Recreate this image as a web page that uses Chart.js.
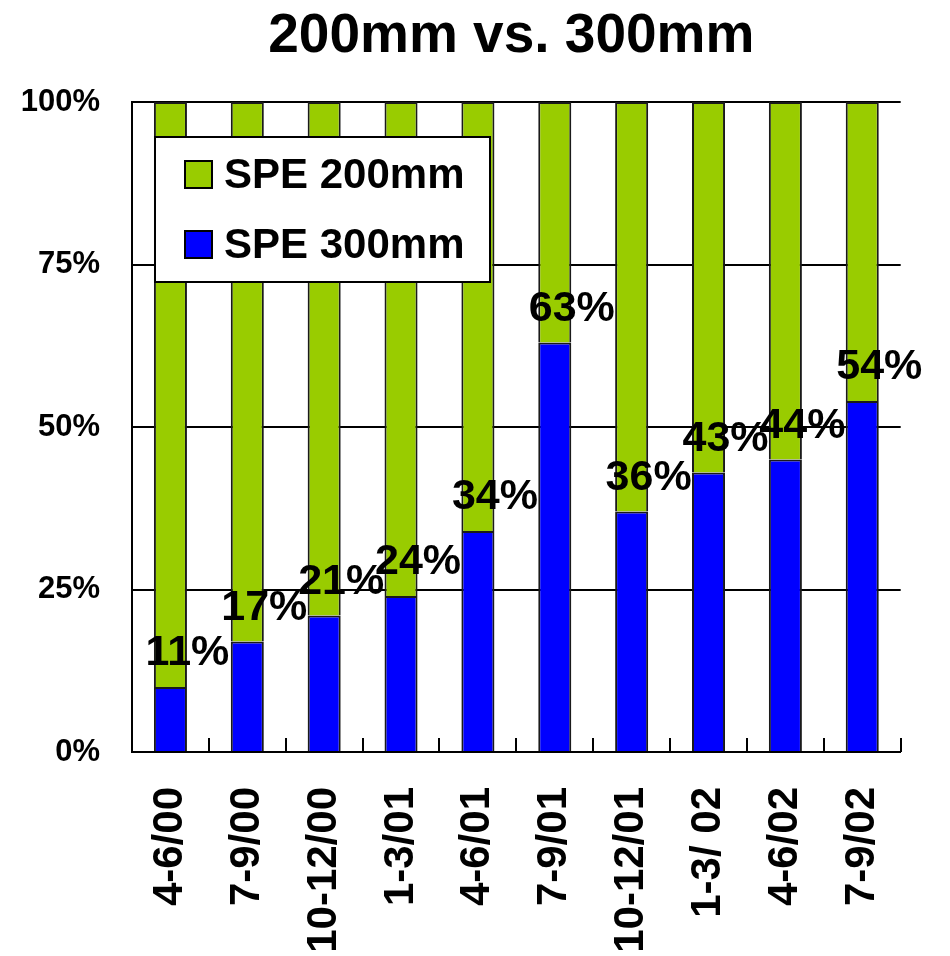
<!DOCTYPE html>
<html>
<head>
<meta charset="utf-8">
<title>200mm vs. 300mm</title>
<script src="https://cdn.jsdelivr.net/npm/chart.js@4.4.1/dist/chart.umd.min.js"></script>
<style>
  body { margin: 0; background: #fff; }
</style>
</head>
<body>
<canvas id="Chart" width="950" height="956"></canvas>
<script>
const chartTitle = "200mm vs. 300mm";
const quarters = ["4-6/00", "7-9/00", "10-12/00", "1-3/01", "4-6/01", "7-9/01", "10-12/01", "1-3/ 02", "4-6/02", "7-9/02"];
const spe300 = [10, 17, 21, 24, 34, 63, 37, 43, 45, 54];
const spe200 = [90, 83, 79, 76, 66, 37, 63, 57, 55, 46];
const shareLabels = ["11%", "17%", "21%", "24%", "34%", "63%", "36%", "43%", "44%", "54%"];
const yTicks = [0, 25, 50, 75, 100];

const fontName = "'Liberation Sans', Arial, sans-serif";
let myChart;

// title centred over the plot
const titlePlugin = {
    id: "titleOverPlot",
    afterDraw(chart) {
        const ctx = chart.ctx;
        const area = chart.chartArea;
        ctx.save();
        ctx.font = "bold 55px " + fontName;
        ctx.fillStyle = "#000";
        ctx.textAlign = "center";
        ctx.textBaseline = "alphabetic";
        ctx.fillText(chartTitle, (area.left + area.right) / 2 - 5, 52);
        ctx.restore();
    }
};

// small ticks pointing up between the bars
const innerTicks = {
    id: "innerTicks",
    afterDatasetsDraw(chart) {
        const ctx = chart.ctx;
        const x = chart.scales.x;
        const area = chart.chartArea;
        const step = (area.right - area.left) / quarters.length;
        ctx.save();
        ctx.strokeStyle = "#000";
        ctx.lineWidth = 2;
        ctx.beginPath();
        for (let i = 1; i <= quarters.length; i++) {
            const px = Math.round(x.getPixelForValue(i - 1) + step / 2);
            ctx.moveTo(px, area.bottom);
            ctx.lineTo(px, area.bottom - 14);
        }
        ctx.stroke();
        ctx.restore();
    }
};

// percentage text above each blue bar
const shareText = {
    id: "shareText",
    afterDatasetsDraw(chart) {
        const ctx = chart.ctx;
        const meta = chart.getDatasetMeta(0);
        ctx.save();
        ctx.font = "bold 43px " + fontName;
        ctx.fillStyle = "#000";
        ctx.textAlign = "center";
        ctx.textBaseline = "alphabetic";
        meta.data.forEach((bar, i) => {
            ctx.fillText(shareLabels[i], bar.x + 17, bar.y - 22);
        });
        ctx.restore();
    }
};

// boxed legend inside the plot, top left
const boxLegend = {
    id: "boxLegend",
    afterDatasetsDraw(chart) {
        const ctx = chart.ctx;
        const area = chart.chartArea;
        const left = area.left + 23;
        const top = area.top + 35;
        ctx.save();
        ctx.fillStyle = "#fff";
        ctx.fillRect(left, top, 335, 145);
        ctx.strokeStyle = "#000";
        ctx.lineWidth = 2;
        ctx.strokeRect(left, top, 335, 145);
        const order = [1, 0];
        ctx.font = "bold 42px " + fontName;
        ctx.textBaseline = "middle";
        order.forEach((d, row) => {
            const ds = chart.data.datasets[d];
            const sy = top + 24 + row * 70;
            ctx.fillStyle = ds.backgroundColor;
            ctx.fillRect(left + 30, sy, 27, 27);
            ctx.lineWidth = 2;
            ctx.strokeRect(left + 30, sy, 27, 27);
            ctx.fillStyle = "#000";
            ctx.fillText(ds.label, left + 69, sy + 15);
        });
        ctx.restore();
    }
};

function createChart() {
    myChart = new Chart("Chart", {
        type: "bar",
        data: {
            labels: quarters,
            datasets: [{
                label: "SPE 300mm",
                data: spe300,
                backgroundColor: "#0000ff",
                borderColor: "#1a1a1a",
                borderWidth: 2
            }, {
                label: "SPE 200mm",
                data: spe200,
                backgroundColor: "#99cc00",
                borderColor: "#1a1a1a",
                borderWidth: 2
            }]
        },
        options: {
            responsive: false,
            animation: false,
            categoryPercentage: 1,
            barPercentage: 0.43,
            layout: { padding: { top: 102, right: 47, bottom: 0, left: 0 } },
            plugins: {
                legend: { display: false },
                title: { display: false },
                tooltip: { enabled: false }
            },
            scales: {
                x: {
                    stacked: true,
                    afterFit: (s) => { s.height = 204; },
                    grid: { display: false, drawTicks: false },
                    border: { display: true, color: "#000", width: 2 },
                    ticks: {
                        color: "#000",
                        font: { family: fontName, size: 42, weight: "bold" },
                        minRotation: 90,
                        maxRotation: 90,
                        padding: 35,
                        autoSkip: false
                    }
                },
                y: {
                    stacked: true,
                    min: 0,
                    max: 100,
                    afterFit: (s) => { s.width = 132; },
                    afterBuildTicks: (s) => { s.ticks = yTicks.map(v => ({ value: v })); },
                    grid: { color: "#000", lineWidth: 2, drawTicks: false },
                    border: { display: true, color: "#000", width: 2 },
                    ticks: {
                        color: "#000",
                        font: { family: fontName, size: 31, weight: "bold" },
                        padding: 32,
                        callback: (v) => v + "%"
                    }
                }
            }
        },
        plugins: [innerTicks, shareText, boxLegend, titlePlugin]
    });
}

createChart();
</script>
</body>
</html>
